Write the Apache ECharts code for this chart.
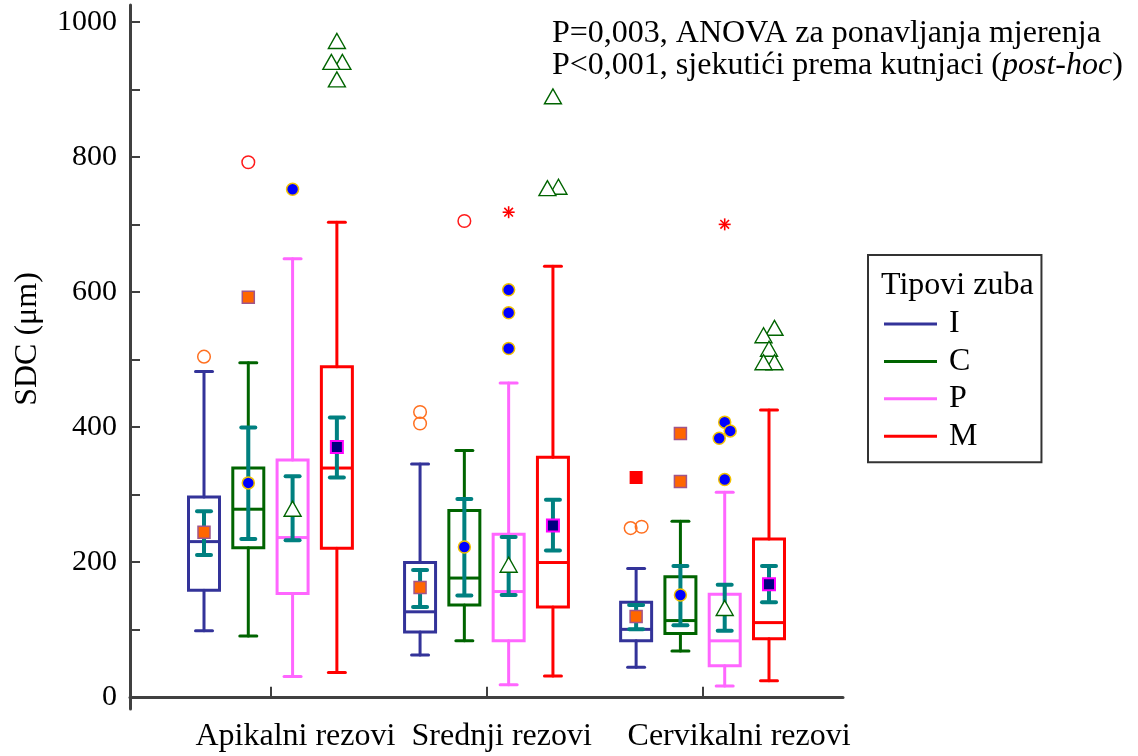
<!DOCTYPE html>
<html><head><meta charset="utf-8">
<script src="https://cdn.jsdelivr.net/npm/echarts@6/dist/echarts.min.js"></script>
<style>html,body{margin:0;padding:0;background:#fff}#c{width:1138px;height:756px}</style>
</head><body><div id="c"></div>
<script>
// ---------- data ----------
const categories = ['Apikalni rezovi', 'Srednji rezovi', 'Cervikalni rezovi'];
const toothTypes = ['I', 'C', 'P', 'M'];
const yTicks = [0, 100, 200, 300, 400, 500, 600, 700, 800, 900, 1000];
const yLabels = [0, 200, 400, 600, 800, 1000];
const annotationLine1 = 'P=0,003, ANOVA za ponavljanja mjerenja';
const annotationLine2a = 'P<0,001, sjekutići prema kutnjaci (';
const annotationItalic = 'post-hoc';
const annotationLine2b = ')';
const legendTitle = 'Tipovi zuba';
const yAxisTitle = 'SDC (μm)';

// box stats per category: [whisker low, Q1, median, Q3, whisker high]
const boxI = [[98, 158, 230, 296, 482], [62, 96, 126, 199, 345], [44, 83, 100, 140, 190]];
const boxC = [[90, 221, 278, 339, 495], [83, 136, 176, 276, 365], [68, 94, 113, 178, 260]];
const boxP = [[30, 153, 236, 351, 649], [18, 83, 156, 241, 465], [16, 46, 83, 152, 303]];
const boxM = [[36, 220, 339, 489, 703], [31, 133, 199, 355, 638], [24, 86, 110, 234, 425]];

// mean with 95% CI: [lower, mean, upper]
const meanI = [[210, 244, 275], [133, 162, 188], [100, 119, 136]];
const meanC = [[234, 317, 399], [150, 222, 293], [106, 151, 194]];
const meanP = [[232, 278, 327], [151, 195, 237], [98, 131, 166]];
const meanM = [[325, 370, 414], [217, 254, 292], [140, 167, 194]];

// outliers per category
const outI = [[504], [422, 405], [325, 252, 250]];
const outC = [[792, 592], [705], [390, 319]];
const outP = [[752], [718, 603, 569, 516], [700, 407, 394, 383, 322]];
const outM = [[971, 940, 940, 914], [889, 755, 753], [546, 535, 515, 495, 495]];

// ---------- styling ----------
const FONT = "'Liberation Serif','Times New Roman',serif";
const AXIS_COLOR = '#404040';
const TEAL = '#008080';
const colors = { I: '#333399', C: '#006400', P: '#ff66ff', M: '#ff0000' };
const markerKinds = {
  I: { mean: 'sqOrange', mild: 'circOrange', extreme: 'sqRed' },
  C: { mean: 'circBlue', mild: 'sqOrange', extreme: 'circRed' },
  P: { mean: 'triGreen', mild: 'circBlue', extreme: 'asterRed' },
  M: { mean: 'sqNavy', mild: 'triGreen', extreme: 'asterRed' }
};
const boxes = { I: boxI, C: boxC, P: boxP, M: boxM };
const means = { I: meanI, C: meanC, P: meanP, M: meanM };
const outs = { I: outI, C: outC, P: outP, M: outM };
const LABEL_SHIFT = 75 / 216.06; // category labels start left of their tick

function marker(kind, x, y) {
  switch (kind) {
    case 'sqOrange': return { type: 'rect', shape: { x: x - 6, y: y - 6, width: 12, height: 12 }, style: { fill: '#ff6600', stroke: '#a0558a', lineWidth: 1.5 } };
    case 'sqNavy': return { type: 'rect', shape: { x: x - 6, y: y - 6, width: 12, height: 12 }, style: { fill: '#000080', stroke: '#ff00ff', lineWidth: 2 } };
    case 'sqRed': return { type: 'rect', shape: { x: x - 6.5, y: y - 6.5, width: 13, height: 13 }, style: { fill: '#ff0000' } };
    case 'circBlue': return { type: 'circle', shape: { cx: x, cy: y, r: 6 }, style: { fill: '#0000ff', stroke: '#f2c200', lineWidth: 1.5 } };
    case 'circOrange': return { type: 'circle', shape: { cx: x, cy: y, r: 6.3 }, style: { fill: null, stroke: '#ff7020', lineWidth: 1.5 } };
    case 'circRed': return { type: 'circle', shape: { cx: x, cy: y, r: 6.3 }, style: { fill: null, stroke: '#ff1a1a', lineWidth: 1.5 } };
    case 'triGreen': return { type: 'polygon', shape: { points: [[x, y - 8], [x - 8.5, y + 7], [x + 8.5, y + 7]] }, style: { fill: '#ffffff', stroke: '#006400', lineWidth: 1.4 } };
    case 'asterRed': {
      const r = 6, d = r * 0.72;
      const st = { stroke: '#ff0000', lineWidth: 1.6 };
      return { type: 'group', children: [
        { type: 'line', shape: { x1: x, y1: y - r, x2: x, y2: y + r }, style: st },
        { type: 'line', shape: { x1: x - r, y1: y, x2: x + r, y2: y }, style: st },
        { type: 'line', shape: { x1: x - d, y1: y - d, x2: x + d, y2: y + d }, style: st },
        { type: 'line', shape: { x1: x - d, y1: y + d, x2: x + d, y2: y - d }, style: st }
      ] };
    }
  }
}

function makeRender(type, seriesIdx) {
  return function (params, api) {
    const k = params.dataIndex;
    const pos = k + 1;
    const unit = api.size([1, 0])[0];
    const cx = api.coord([pos, 0])[0] + (seriesIdx - 1.5) * 0.205 * unit;
    const Y = v => api.coord([pos, v])[1];
    const [wl, q1, med, q3, wh] = boxes[type][k];
    const [lo, mn, hi] = means[type][k];
    const col = colors[type];
    const lineSt = { stroke: col, lineWidth: 3, lineCap: 'round' };
    const boxW = 31, capW = 17, ciCapW = 14;
    const ch = [];
    ch.push({ type: 'line', shape: { x1: cx, y1: Y(q3), x2: cx, y2: Y(wh) }, style: lineSt });
    ch.push({ type: 'line', shape: { x1: cx, y1: Y(q1), x2: cx, y2: Y(wl) }, style: lineSt });
    ch.push({ type: 'line', shape: { x1: cx - capW / 2, y1: Y(wh), x2: cx + capW / 2, y2: Y(wh) }, style: lineSt });
    ch.push({ type: 'line', shape: { x1: cx - capW / 2, y1: Y(wl), x2: cx + capW / 2, y2: Y(wl) }, style: lineSt });
    ch.push({ type: 'rect', shape: { x: cx - boxW / 2, y: Y(q3), width: boxW, height: Y(q1) - Y(q3) }, style: { fill: null, stroke: col, lineWidth: 3 } });
    ch.push({ type: 'line', shape: { x1: cx - boxW / 2, y1: Y(med), x2: cx + boxW / 2, y2: Y(med) }, style: { stroke: col, lineWidth: 3 } });
    const ciSt = { stroke: TEAL, lineWidth: 4, lineCap: 'round' };
    ch.push({ type: 'line', shape: { x1: cx, y1: Y(lo), x2: cx, y2: Y(hi) }, style: { stroke: TEAL, lineWidth: 4 } });
    ch.push({ type: 'line', shape: { x1: cx - ciCapW / 2, y1: Y(lo), x2: cx + ciCapW / 2, y2: Y(lo) }, style: ciSt });
    ch.push({ type: 'line', shape: { x1: cx - ciCapW / 2, y1: Y(hi), x2: cx + ciCapW / 2, y2: Y(hi) }, style: ciSt });
    ch.push(marker(markerKinds[type].mean, cx, Y(mn)));
    // outliers: style by distance from box, small side-by-side jitter when overlapping
    const iqr = q3 - q1;
    const list = outs[type][k].slice().sort((a, b) => b - a).map(v => ({ v, py: Y(v) }));
    const clusters = [];
    list.forEach(o => {
      const last = clusters[clusters.length - 1];
      if (last && o.py - last[last.length - 1].py < 10) last.push(o); else clusters.push([o]);
    });
    const s = 5.5;
    clusters.forEach(cl => {
      const n = cl.length;
      cl.forEach((o, i) => {
        let off;
        if (n % 2 === 1) { off = i === 0 ? 0 : (i % 2 === 1 ? 1 : -1) * Math.ceil(i / 2) * s; }
        else { off = (i % 2 === 0 ? 1 : -1) * (Math.floor(i / 2) + 1) * s; }
        const extreme = o.v > q3 + 3 * iqr || o.v < q1 - 3 * iqr;
        ch.push(marker(extreme ? markerKinds[type].extreme : markerKinds[type].mild, cx + off, o.py));
      });
    });
    return { type: 'group', children: ch };
  };
}

const chart = echarts.init(document.getElementById('c'), null, { renderer: 'canvas' });
const option = {
  animation: false,
  backgroundColor: '#ffffff',
  grid: { left: 130, right: 295, top: 5, bottom: 47, containLabel: false },
  xAxis: {
    type: 'value', min: 0.35, max: 3.65,
    splitLine: { show: false },
    axisLine: { show: true, lineStyle: { color: AXIS_COLOR, width: 3 } },
    axisTick: { show: true, inside: true, length: 10, customValues: [1, 2, 3], lineStyle: { color: AXIS_COLOR, width: 2 } },
    axisLabel: {
      customValues: categories.map((c, i) => i + 1 - LABEL_SHIFT),
      formatter: v => categories[Math.round(v + LABEL_SHIFT) - 1] || '',
      align: 'left', fontFamily: FONT, fontSize: 32, color: '#000', margin: 12,
      hideOverlap: false
    }
  },
  yAxis: {
    type: 'value', min: -18, max: 1025,
    splitLine: { show: false },
    axisLine: { show: true, lineStyle: { color: AXIS_COLOR, width: 3 } },
    axisTick: { show: true, inside: true, length: 10, customValues: yTicks, lineStyle: { color: AXIS_COLOR, width: 2 } },
    axisLabel: { customValues: yLabels, formatter: v => String(v), fontFamily: FONT, fontSize: 30, color: '#000', margin: 13 }
  },
  legend: {
    orient: 'vertical', left: 868, top: 255,
    data: toothTypes, selectedMode: false,
    icon: 'rect', itemWidth: 53, itemHeight: 3, itemGap: 5.4,
    borderColor: '#333333', borderWidth: 2,
    padding: [53, 64, 10, 16],
    textStyle: { fontFamily: FONT, fontSize: 32, color: '#000', padding: [0, 0, 0, 7] }
  },
  graphic: [
    { type: 'text', left: 881, top: 270, style: { text: legendTitle, fontFamily: FONT, fontSize: 32, fill: '#000' } },
    { type: 'text', x: 28, y: 339, rotation: Math.PI / 2, style: { text: yAxisTitle, fontFamily: FONT, fontSize: 32, fill: '#000', align: 'center', verticalAlign: 'middle' } },
    { type: 'text', left: 552, top: 18, style: { text: annotationLine1, fontFamily: FONT, fontSize: 32, fill: '#000' } },
    { type: 'text', left: 552, top: 50, style: { text: annotationLine2a + '{i|' + annotationItalic + '}' + annotationLine2b, fontFamily: FONT, fontSize: 32, fill: '#000', rich: { i: { fontFamily: FONT, fontSize: 32, fontStyle: 'italic', fill: '#000' } } } }
  ],
  series: toothTypes.map((t, i) => ({
    type: 'custom', name: t,
    itemStyle: { color: colors[t] },
    data: categories.map((c, k) => [k + 1]),
    renderItem: makeRender(t, i),
    z: 2 + i
  }))
};
chart.setOption(option);
</script>
</body></html>
